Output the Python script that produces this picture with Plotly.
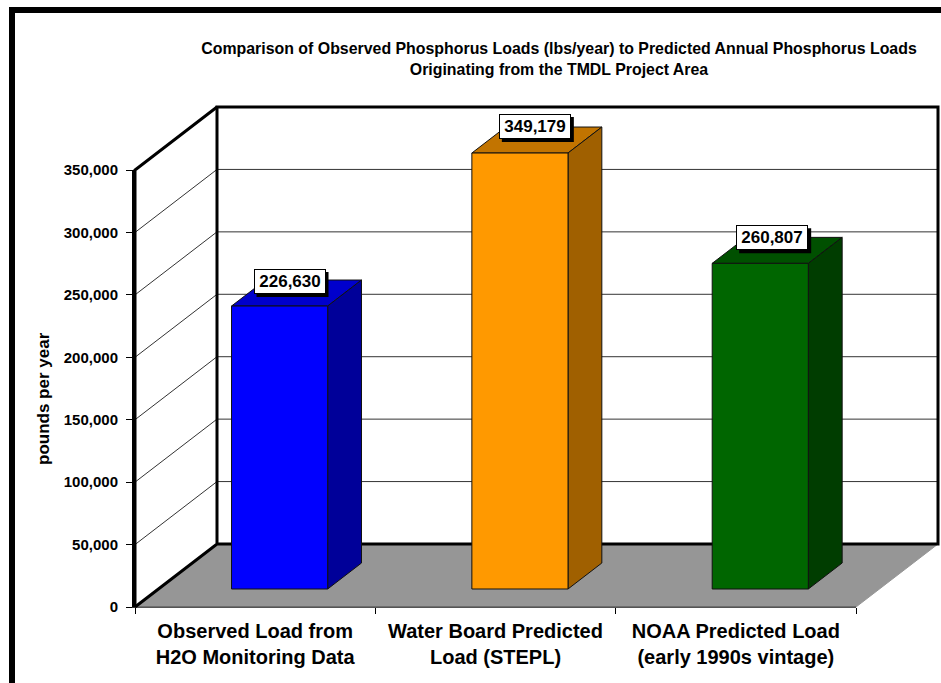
import plotly.graph_objects as go

categories = ["Observed Load from<br>H2O Monitoring Data",
              "Water Board Predicted<br>Load (STEPL)",
              "NOAA Predicted Load<br>(early 1990s vintage)"]
loads = [226630, 349179, 260807]
label_text = ["226,630", "349,179", "260,807"]
y_ticks = [0, 50000, 100000, 150000, 200000, 250000, 300000, 350000]
boundaries = [-0.5, 0.5, 1.5, 2.5]

front_colors = ["#0000FF", "#FF9900", "#006600"]
top_colors = ["#0000CC", "#C27400", "#005000"]
side_colors = ["#000099", "#A06000", "#003D00"]

# pseudo-3D projection (depth 0 = front, 1 = back wall)
W, H = 941, 683
L, R, T, B = 135, 856, 170, 607
X_PER_PX = 3 / (R - L)
Y_PER_PX = 350000 / (B - T)
DX = 82 * X_PER_PX
DY = 63 * Y_PER_PX
D0, D1 = 18 / 63, 44 / 63
HALF = 0.2
BAR_SHIFT = 1 * X_PER_PX
LABEL_DX = [-7, -2, -5]
LABEL_DY = [12, 14, 13]


def P(c, v, d):
    return c + d * DX, v + d * DY


def poly(points, fill, line="#111111", width=1):
    xs, ys = zip(*points)
    return go.Scatter(x=list(xs), y=list(ys), mode="lines", fill="toself" if fill else None,
                      fillcolor=fill, line=dict(color=line, width=width),
                      hoverinfo="skip", showlegend=False, xaxis="x2", yaxis="y2")


fig = go.Figure()
ymax = y_ticks[-1]
xa, xb = boundaries[0], boundaries[-1]

# invisible trace keeps the visible axes alive
fig.add_trace(go.Scatter(x=[0, 1, 2], y=loads, mode="markers", marker=dict(opacity=0),
                         hoverinfo="skip", showlegend=False))
# left wall and back wall
fig.add_trace(poly([P(xa, 0, 0), P(xa, 0, 1), P(xa, ymax, 1), P(xa, ymax, 0), P(xa, 0, 0)], "#FFFFFF", "#FFFFFF"))
fig.add_trace(poly([P(xa, 0, 1), P(xb, 0, 1), P(xb, ymax, 1), P(xa, ymax, 1), P(xa, 0, 1)], "#FFFFFF", "#FFFFFF"))
# gridlines
for v in y_ticks[1:-1]:
    fig.add_trace(poly([P(xa, v, 0), P(xa, v, 1), P(xb, v, 1)], None, "#333333", 1))
# floor
fig.add_trace(poly([P(xa, 0, 0), P(xa, 0, 1), P(xb, 0, 1), P(xb, 0, 0), P(xa, 0, 0)], "#969696", "#969696"))
fig.add_trace(poly([P(xa, 0, 0), P(xb, 0, 0)], None, "#444444", 1))
# thick wall outlines
fig.add_trace(poly([P(xa, 0, 0), P(xa, 0, 1), P(xb, 0, 1), P(xb, ymax, 1), P(xa, ymax, 1), P(xa, 0, 1)], None, "#000000", 3))
fig.add_trace(poly([P(xa, 0, 0), P(xa, ymax, 0), P(xa, ymax, 1)], None, "#000000", 3))
# bars
for i, v in enumerate(loads):
    c = i + BAR_SHIFT
    l, r = c - HALF, c + HALF
    fig.add_trace(poly([P(l, v, D0), P(r, v, D0), P(r, v, D1), P(l, v, D1), P(l, v, D0)], top_colors[i]))
    fig.add_trace(poly([P(r, 0, D0), P(r, 0, D1), P(r, v, D1), P(r, v, D0), P(r, 0, D0)], side_colors[i]))
    fig.add_trace(poly([P(l, 0, D0), P(r, 0, D0), P(r, v, D0), P(l, v, D0), P(l, 0, D0)], front_colors[i]))

# data labels with drop shadow
shapes = []
annotations = []
for i, v in enumerate(loads):
    ax, ay = P(i + BAR_SHIFT, v, (D0 + D1) / 2)
    sx, sy = LABEL_DX[i], LABEL_DY[i]
    shapes.append(dict(type="rect", xref="x2", yref="y2", xsizemode="pixel", ysizemode="pixel",
                       xanchor=ax, yanchor=ay, x0=sx - 33, x1=sx + 39, y0=sy - 16, y1=sy + 9,
                       fillcolor="#000000", line=dict(width=0), layer="above"))
    annotations.append(dict(x=ax, y=ay, xref="x2", yref="y2", text=label_text[i], showarrow=False,
                            xshift=sx, yshift=sy,
                            font=dict(family="Liberation Sans", size=17, color="#000000", weight="bold"),
                            bgcolor="#FFFFFF", bordercolor="#000000", borderwidth=1, borderpad=1,
                            width=68, height=21))

# y axis title, placed as in the reference (centred lower than the axis)
annotations.append(dict(x=43 / W, y=1 - 399 / H, xref="paper", yref="paper", text="<b>pounds per year</b>",
                        textangle=-90, showarrow=False, xanchor="center", yanchor="middle",
                        font=dict(family="Liberation Sans", size=17, color="#000000")))

# frame around the picture
shapes.append(dict(type="line", xref="paper", yref="paper", x0=9 / W, x1=1,
                   y0=1 - 10 / H, y1=1 - 10 / H, line=dict(color="#000000", width=6)))
shapes.append(dict(type="line", xref="paper", yref="paper", x0=12 / W, x1=12 / W,
                   y0=1 - 7 / H, y1=0, line=dict(color="#000000", width=6)))

fig.update_layout(
    width=W, height=H, autosize=False,
    margin=dict(l=0, r=0, t=0, b=0),
    paper_bgcolor="#FFFFFF", plot_bgcolor="rgba(0,0,0,0)",
    font=dict(family="Liberation Sans", color="#000000"),
    title=dict(text="<b>Comparison of Observed Phosphorus Loads (lbs/year) to Predicted Annual Phosphorus Loads"
                    "<br>Originating from the TMDL Project Area</b>",
               x=559 / W, xanchor="center", y=1 - 54 / H, yanchor="top",
               font=dict(family="Liberation Sans", size=15.9, color="#000000")),
    xaxis=dict(domain=[L / W, R / W], anchor="y", range=[xa, xb], tickvals=[0, 1, 2], ticktext=categories,
               ticks="", showgrid=False, zeroline=False, showline=True, linecolor="#333333", linewidth=1,
               automargin=False, ticklabelstandoff=6,
               tickfont=dict(family="Liberation Sans", size=20, weight="bold", color="#000000"),
               minor=dict(tickvals=boundaries, ticks="outside", ticklen=6, tickcolor="#000000", tickwidth=1)),
    yaxis=dict(domain=[1 - B / H, 1 - T / H], anchor="x", range=[0, ymax], tickvals=y_ticks, tickformat=",",
               ticks="outside", ticklen=6, tickcolor="#000000", showgrid=False, zeroline=False,
               showline=True, linecolor="#000000", linewidth=3, ticklabelstandoff=5, automargin=False,
               tickfont=dict(family="Liberation Sans", size=15, weight="bold", color="#000000")),
    xaxis2=dict(domain=[0, 1], anchor="y2", visible=False, automargin=False,
                range=[xa - L * X_PER_PX, xb + (W - R) * X_PER_PX]),
    yaxis2=dict(domain=[0, 1], anchor="x2", visible=False, automargin=False,
                range=[-(H - B) * Y_PER_PX, ymax + T * Y_PER_PX]),
    shapes=shapes, annotations=annotations,
)

fig.write_html("out.html", config=dict(displayModeBar=False),
               post_script="document.body.style.margin='0';document.body.style.overflow='hidden';")
